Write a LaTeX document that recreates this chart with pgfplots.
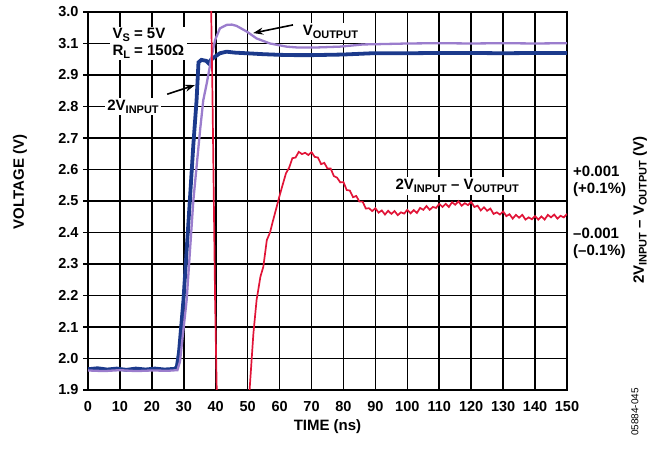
\documentclass[border=0pt]{standalone}
\usepackage{fontspec}
\setmainfont{Liberation Sans}
\usepackage{pgfplots}
\pgfplotsset{compat=1.18}
\usetikzlibrary{arrows.meta}
\definecolor{navy}{RGB}{28,58,140}
\definecolor{lav}{RGB}{155,125,205}
\definecolor{crim}{RGB}{225,20,55}
\newcommand{\sub}[1]{\raisebox{-0.35ex}{\fontsize{11bp}{12bp}\selectfont #1}}
\newcommand{\lbl}{\fontsize{15bp}{17bp}\selectfont\bfseries}
\begin{document}
\begin{tikzpicture}
\begin{axis}[
  at={(88bp,63bp)}, anchor=south west,
  scale only axis, width=479bp, height=378bp,
  xmin=0, xmax=150, ymin=1.9, ymax=3.1,
  hide x axis,
  axis y line*=left,
  ytick={1.9,2.0,2.1,2.2,2.3,2.4,2.5,2.6,2.7,2.8,2.9,3.0,3.1},
  yticklabels={},
  tick align=outside, major tick length=5bp,
  tick style={black, line width=1.1bp},
  axis line style={line width=2bp},
]
\end{axis}
\begin{axis}[
  at={(88bp,63bp)}, anchor=south west,
  scale only axis, width=479bp, height=378bp,
  xmin=0, xmax=150, ymin=1.9, ymax=3.1,
  xtick={0,10,20,30,40,50,60,70,80,90,100,110,120,130,140,150},
  ytick={1.9,2.0,2.1,2.2,2.3,2.4,2.5,2.6,2.7,2.8,2.9,3.0,3.1},
  yticklabels={1.9,2.0,2.1,2.2,2.3,2.4,2.5,2.6,2.7,2.8,2.9,3.1,3.0},
  xmajorgrids=true, ymajorgrids=true,
  x grid style={black, line width=1.6bp},
  y grid style={black, line width=1.1bp},
  axis line style={line width=2bp},
  tick align=inside, major tick length=2bp,
  tick style={black, line width=1.1bp},
  ticklabel style={font=\fontsize{14.5bp}{16bp}\selectfont\bfseries},
  xticklabel style={yshift=-8bp},
  yticklabel style={xshift=-6bp},
  /pgf/number format/assume math mode=true,
  clip=true,
]
\addplot[navy, line width=3.8bp] coordinates {
(0,1.966)(3,1.969)(6,1.965)(9,1.968)(12,1.964)(15,1.968)(18,1.965)(21,1.968)(24,1.965)(27,1.967)(27.8,1.972)(28.5,2.02)(29.9,2.186)(31.9,2.503)(33,2.68)(34,2.82)(34.6,2.94)(35.5,2.948)(37,2.945)(37.7,2.938)(38.5,2.948)(40,2.96)(41.3,2.969)(43.4,2.974)(46,2.971)(49.7,2.969)(55,2.966)(60,2.964)(65.3,2.963)(70,2.963)(80,2.965)(89,2.969)(100,2.969)(110,2.97)(120,2.97)(130,2.969)(140,2.97)(150,2.97)
};
\addplot[lav, line width=2.3bp] coordinates {
(0,1.962)(5,1.960)(10,1.963)(15,1.960)(20,1.962)(25,1.961)(28,1.963)(28.8,1.99)(30.9,2.186)(33,2.503)(35.1,2.725)(36.1,2.82)(37.2,2.874)(38.7,2.958)(39.8,3.011)(41.3,3.048)(43.4,3.059)(45,3.06)(46.5,3.056)(49.7,3.038)(52.8,3.016)(57,3.0)(62.2,2.99)(66,2.987)(70.6,2.987)(78.9,2.99)(86.2,2.997)(91.4,2.998)(100,3.0)(110,3.001)(120,3.0)(130,3.001)(140,3.0)(150,3.001)
};
\addplot[crim, line width=1.7bp] coordinates {
(38.3,3.3)(38.5,3.15)(39.0,2.82)(39.8,2.186)(40.4,1.85)(45,1.5)(50.2,1.85)(50.6,1.90)(51.8,2.08)(52.8,2.186)(54.0,2.26)(54.9,2.291)(56.0,2.376)(57.0,2.40)(58.0,2.44)(59.1,2.482)
(60,2.517)(61,2.553)(62,2.588)(63,2.606)(64,2.636)(65,2.638)(66,2.656)(67,2.649)(68,2.653)(69,2.646)
(70,2.655)(71,2.640)(72,2.638)(73,2.617)(74,2.621)(75,2.603)(76,2.603)(77,2.579)(78,2.574)(79,2.559)
(80,2.560)(81,2.535)(82,2.533)(83,2.512)(84,2.516)(85,2.498)(86,2.498)(87,2.476)(88,2.477)(89,2.468)
(90,2.477)(91,2.463)(92,2.470)(93,2.457)(94,2.469)(95,2.459)(96,2.468)(97,2.455)(98,2.464)(99,2.460)
(100,2.472)(101,2.461)(102,2.471)(103,2.462)(104,2.478)(105,2.472)(106,2.484)(107,2.472)(108,2.481)(109,2.478)
(110,2.491)(111,2.481)(112,2.491)(113,2.481)(114,2.496)(115,2.488)(116,2.499)(117,2.485)(118,2.493)(119,2.487)
(120,2.497)(121,2.481)(122,2.485)(123,2.470)(124,2.480)(125,2.469)(126,2.476)(127,2.459)(128,2.464)(129,2.457)
(130,2.467)(131,2.452)(132,2.458)(133,2.444)(134,2.456)(135,2.447)(136,2.456)(137,2.441)(138,2.448)(139,2.442)
(140,2.452)(141,2.441)(142,2.451)(143,2.441)(144,2.456)(145,2.448)(146,2.457)(147,2.444)(148,2.453)(149,2.448)
(150,2.459)
};
\node[fill=white, align=left, inner xsep=3bp, inner ysep=1bp, font=\lbl] at (axis cs:18.9,3.0) {V\sub{S} = 5V\\R\sub{L} = 150Ω};
\node[fill=white, font=\lbl, inner sep=2bp] at (axis cs:14.1,2.8) {2V\sub{INPUT}};
\node[fill=white, font=\lbl, inner sep=2bp] at (axis cs:75.9,3.038) {V\sub{OUTPUT}};
\node[fill=white, font=\lbl, inner sep=2bp] at (axis cs:115.6,2.548) {2V\sub{INPUT} – V\sub{OUTPUT}};
\draw[-{Stealth[length=10bp,width=7bp]}, line width=1.6bp] (axis cs:64.2,3.059) -- (axis cs:51.7,3.033);
\draw[-{Stealth[length=10bp,width=7bp]}, line width=1.6bp] (axis cs:24.8,2.839) -- (axis cs:33.5,2.868);
\end{axis}
\node[rotate=90, font=\lbl] at (20bp,271bp) {VOLTAGE (V)};
\node[font=\lbl] at (327.5bp,26bp) {TIME (ns)};
\node[rotate=90, font=\lbl] at (640bp,243bp) {2V\sub{INPUT} – V\sub{OUTPUT} (V)};
\node[anchor=west, align=left, font=\lbl, inner sep=0] at (573bp,272bp) {+0.001\\(+0.1\%)};
\node[anchor=west, align=left, font=\lbl, inner sep=0] at (573bp,209.5bp) {–0.001\\(–0.1\%)};
\node[rotate=90, font=\fontsize{10bp}{11bp}\selectfont] at (635bp,41bp) {05884-045};
\pgfresetboundingbox
\path (0bp,0bp) rectangle (660bp,453bp);
\end{tikzpicture}
\end{document}
